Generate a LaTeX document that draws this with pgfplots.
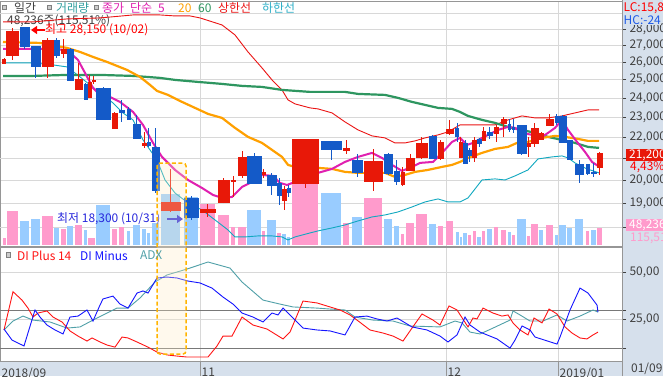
\documentclass[border=0pt]{standalone}
\usepackage{fontspec}
\setmainfont{Noto Sans CJK KR}
\usepackage{pgfplots}
\usepackage{pgfplotstable}
\pgfplotsset{compat=1.18}
\usetikzlibrary{arrows.meta}
\definecolor{candred}{RGB}{232,24,8}
\definecolor{candblue}{RGB}{20,90,200}
\definecolor{volpink}{RGB}{255,155,204}
\definecolor{volblue}{RGB}{153,204,255}
\definecolor{ma5}{RGB}{224,32,176}
\definecolor{ma20}{RGB}{255,160,0}
\definecolor{ma60}{RGB}{46,150,96}
\definecolor{bandup}{RGB}{235,20,20}
\definecolor{banddn}{RGB}{16,168,192}
\definecolor{gridgray}{RGB}{216,216,216}
\definecolor{refgray}{RGB}{120,120,120}
\definecolor{panelbg}{RGB}{214,224,236}
\definecolor{framegray}{RGB}{150,150,150}
\definecolor{ticktext}{RGB}{64,64,64}
\definecolor{diplus}{RGB}{255,20,20}
\definecolor{diminus}{RGB}{20,20,255}
\definecolor{adx}{RGB}{80,160,168}
\definecolor{volteal}{RGB}{51,160,160}
\definecolor{hilow}{RGB}{48,176,200}
\definecolor{boxorange}{RGB}{255,180,0}
\definecolor{boxfill}{RGB}{255,238,198}
\definecolor{lowblue}{RGB}{40,40,220}
\definecolor{hcblue}{RGB}{30,90,230}
\newcommand\cf{\fontsize{12}{14}\selectfont}

\pgfplotstableread{
xl xr o h l c v up vc
2.5 5.5 25955 26248 25900 26190 19900 1 1
6.5 18 26424 28062 26131 27875 96500 1 1
20 29 28081 28150 26762 26917 68100 0 0
31 40 26917 26917 25104 25784 73800 0 0
42 53 25784 27444 25104 27322 82300 1 1
54 59 27322 27444 26248 26424 48200 0 0
61 66 26542 27383 26248 26780 45400 1 1
67 73 26780 26840 24937 24992 53900 0 0
75 82 24496 25957 24496 25048 56700 1 1
84 87 24770 24826 23903 23956 42600 0 0
88 91.5 24063 25272 24010 24881 19900 1 1
92 95 24937 25216 24770 24992 19900 1 1
96 110 24550 24605 22861 22912 113500 0 0
112 117 22457 23272 22457 23220 45400 1 1
119 124 23376 23903 22760 23272 51100 0 1
127 130 23428 23532 22861 22912 39700 0 0
133 140 22657 23117 21913 21962 56700 0 0
142 146 21622 22258 21478 21718 45400 1 0
147 150 21767 22457 21526 21622 34000 0 0
152 159 21526 22457 19428 19558 62400 0 0
161 180 18705 20495 18622 19042 144700 1 0
184 198 19212 19298 18300 18416 136200 0 0
200 215 18622 18957 18416 18747 116300 1 1
218 229 19042 20089 18999 19999 85100 1 1
231 235 19954 20178 19255 19999 51100 1 1
238 246 20223 21334 20089 21051 51100 1 1
247 261 21098 21239 19821 19866 99300 0 0
262 265 20268 20495 20089 20359 39700 1 1
267 276 20223 20314 19341 19777 70900 0 0
277 281 19866 20089 18915 19341 34000 0 1
282 286 19127 19733 18705 19602 31200 1 0
287 290 19646 19777 19255 19471 22700 0 0
292 318 19866 21913 19646 21913 175900 1 1
321 341 21816 21816 20911 21430 147500 0 0
343 349 21382 21864 21192 21478 62400 1 1
352 362 20911 21192 20133 20359 79400 0 0
364 382 19954 21430 19515 20864 133300 1 1
384 392 21192 21239 20223 20314 73800 0 0
394 399 20404 20911 19777 19954 53900 0 0
401 404 19821 20587 19733 20359 31200 1 1
406 414 20450 21192 20404 21004 62400 1 1
416 427 21051 22011 20957 21718 87900 1 1
429 436 22060 22109 21004 21004 59600 0 0
438 443 21004 21864 20911 21767 53900 1 1
446 453 22208 22861 22109 22407 68100 1 1
455.5 458.5 22457 22708 21767 22060 36900 0 0
459.5 462 21051 22011 21051 21767 22700 1 0
463 467 21718 21864 20725 20772 34000 0 0
468 471 21382 21478 20818 21145 28400 0 1
472.5 476 21051 22011 20818 21864 39700 1 1
477 481 21913 21962 21526 21718 22700 0 0
482 485 21864 22507 21816 22307 39700 1 1
487 492 22258 22507 21913 22109 45400 0 0
494 498 22208 22607 21767 22507 51100 1 1
501 506 22708 23014 22011 22912 42600 1 1
508 510.5 22657 22912 22258 22407 36900 0 0
512 514.5 22507 22912 22208 22407 28400 0 1
517 526 22607 22607 21145 21239 73800 0 0
527 530 21574 22011 21051 21718 25500 1 1
531 538 21718 22708 21526 22457 59600 1 1
539 543 21913 22258 21864 22208 42600 1 0
546 553 22607 23169 22557 22912 56700 1 1
555 558 23065 23169 22607 22760 28400 0 0
559 566 23065 23117 21767 21767 56700 0 0
567 572 21864 21864 20911 20957 48200 0 0
575 583 20725 20911 19866 20268 73800 0 0
586 589 20725 20725 20223 20314 39700 0 1
591 596 20359 20772 20133 20300 42600 0 0
597 602 20587 21287 20223 21200 48236 1 1
}\candles
\pgfplotstablegetrowsof{\candles}
\pgfmathtruncatemacro\lastrow{\pgfplotsretval-1}

\begin{document}
\begin{tikzpicture}
\begin{scope}[x=1bp,y=1bp]
\useasboundingbox (0,0) rectangle (663,376);
\clip (0,0) rectangle (663,376);
\fill[white] (0,0) rectangle (663,376);
\fill[panelbg] (622,0) rectangle (663,376);
\fill[panelbg] (0,0) rectangle (663,15);

% grid + ticks of upper panel
\begin{axis}[
  at={(0bp,130bp)}, anchor=south west, scale only axis, width=622bp, height=245bp,
  xmin=0, xmax=622, ymode=log, ymin=17263, ymax=29803,
  axis line style={framegray, line width=0.8bp},
  xtick={200,446,558}, xticklabel style={opacity=0}, xmajorgrids, xtick style={draw=none},
  ytick={19000,20000,22000,23000,24000,25000,26000,27000,28000},
  yticklabels={{19,000},{20,000},{22,000},{23,000},{24,000},{25,000},{26,000},{27,000},{28,000}},
  extra y ticks={18000,21000,29000}, extra y tick labels={},
  ymajorgrids, yminorticks=false,
  ytick pos=right, yticklabel pos=right,
  ytick style={ticktext, line width=0.8bp}, tick align=outside, major tick length=4bp,
  yticklabel style={font=\cf, text=ticktext},
  grid style={gridgray, line width=0.8bp},
]
\addplot[draw=none] coordinates {(0,20000) (622,20000)};
\end{axis}
\node[anchor=west, inner sep=0, font=\cf, text=ticktext] at (7,355) {48,236주(115.51\%)};

% volume
\begin{axis}[
  at={(0bp,130bp)}, anchor=south west, scale only axis, width=622bp, height=245bp,
  xmin=0, xmax=622, ymin=-2837, ymax=692228, hide axis]
\foreach \i in {0,...,\lastrow}{%
  \pgfplotstablegetelem{\i}{xl}\of\candles\let\CXl\pgfplotsretval
  \pgfplotstablegetelem{\i}{xr}\of\candles\let\CXr\pgfplotsretval
  \pgfplotstablegetelem{\i}{v}\of\candles\let\CV\pgfplotsretval
  \pgfplotstablegetelem{\i}{vc}\of\candles\let\CVC\pgfplotsretval
  \edef\temp{\noexpand\addplot[draw=none, fill=\ifnum\CVC=1 volpink\else volblue\fi] coordinates {(\CXl,0) (\CXr,0) (\CXr,\CV) (\CXl,\CV)} --cycle;}%
  \temp
}
\end{axis}

% price
\begin{axis}[
  at={(0bp,130bp)}, anchor=south west, scale only axis, width=622bp, height=245bp,
  xmin=0, xmax=622, ymode=log, ymin=17263, ymax=29803, hide axis]
\addplot[bandup, line width=0.9bp] coordinates {(3,28440) (33,28440) (67,28631) (100,28695) (133,28887) (160,28887) (175,28823) (190,28823) (200,28695) (222,28250) (235,27628) (248,26601) (262,25670) (272,24992) (282,24441) (288,23903) (295,23691) (310,23481) (318,23428) (332,23220) (345,22759) (358,22357) (372,22060) (385,21962) (395,21718) (405,21718) (415,21816) (425,21962) (438,22109) (448,22258) (460,22607) (468,22607) (495,22607) (508,22861) (522,23065) (535,22963) (548,22963) (562,23065) (575,23220) (588,23376) (599,23376)};
\addplot[banddn, line width=0.9bp] coordinates {(3,25958) (33,25958) (53,25842) (67,25727) (80,25160) (90,24715) (100,24278) (113,23744) (123,23220) (133,22861) (143,21864) (157,20911) (165,19999) (175,19428) (188,19000) (202,18705) (215,18293) (228,17890) (235,17614) (245,17614) (258,17653) (272,17653) (282,17614) (288,17496) (295,17614) (310,17771) (318,17851) (332,17970) (345,18090) (358,18252) (372,18416) (385,18498) (398,18622) (412,18831) (425,19042) (438,19170) (448,19042) (460,19042) (468,19213) (482,19999) (495,20044) (505,19999) (515,20178) (528,20450) (538,20957) (552,21051) (562,21098) (568,21004) (575,20772) (587,20496) (599,20314)};
\addplot[ma60, line width=2.2bp] coordinates {(3,25216) (33,25216) (67,25272) (100,25272) (133,25216) (147,25160) (160,25104) (175,24992) (198,24881) (222,24770) (242,24660) (262,24605) (282,24441) (310,24333) (345,24333) (358,24224) (385,24170) (398,24010) (412,23797) (425,23638) (438,23481) (452,23428) (460,23272) (468,23065) (482,22861) (495,22708) (508,22507) (522,22357) (535,22208) (548,22011) (562,21864) (575,21718) (588,21526) (599,21478)};
\addplot[ma20, line width=2.2bp] coordinates {(3,27201) (40,27140) (67,26840) (80,26601) (93,26307) (107,26014) (127,25555) (140,25160) (150,24715) (157,24387) (168,24170) (182,23797) (195,23481) (208,23169) (222,22963) (235,22457) (248,22011) (262,21718) (272,21382) (282,21051) (288,20679) (295,20587) (305,20542) (318,20542) (332,20496) (345,20359) (358,20314) (385,20314) (395,20133) (405,20223) (415,20359) (428,20450) (442,20587) (452,20679) (460,20818) (468,21004) (482,21240) (495,21430) (508,21526) (517,21718) (528,21767) (542,21962) (555,22060) (565,22011) (578,21913) (588,21816) (599,21816)};
\addplot[ma5, line width=2bp] coordinates {(3,26780) (40,26780) (67,26720) (78,26131) (85,25385) (93,24551) (100,24170) (110,24063) (120,23797) (133,23272) (143,22607) (153,21719) (162,21051) (175,20450) (188,19999) (202,19646) (213,19341) (222,19213) (232,19255) (242,19689) (252,19910) (262,20223) (273,20178) (280,19866) (287,19777) (295,19910) (310,20089) (318,20314) (332,20496) (345,20818) (358,21051) (372,21240) (382,21004) (392,20679) (402,20404) (412,20587) (420,20772) (433,20818) (442,21240) (452,21767) (460,21962) (467,21622) (473,21718) (482,21962) (488,22109) (498,22357) (508,22507) (515,22457) (523,22208) (532,22109) (542,22011) (548,22208) (555,22457) (562,22861) (568,22357) (577,21767) (585,21287) (592,20818) (598,20633)};
\foreach \i in {0,...,\lastrow}{%
  \pgfplotstablegetelem{\i}{xl}\of\candles\let\CXl\pgfplotsretval
  \pgfplotstablegetelem{\i}{xr}\of\candles\let\CXr\pgfplotsretval
  \pgfplotstablegetelem{\i}{o}\of\candles\let\CO\pgfplotsretval
  \pgfplotstablegetelem{\i}{h}\of\candles\let\CH\pgfplotsretval
  \pgfplotstablegetelem{\i}{l}\of\candles\let\CL\pgfplotsretval
  \pgfplotstablegetelem{\i}{c}\of\candles\let\CC\pgfplotsretval
  \pgfplotstablegetelem{\i}{up}\of\candles\let\CUP\pgfplotsretval
  \pgfmathsetmacro\CXm{(\CXl+\CXr)/2}%
  \edef\col{\ifnum\CUP=1 candred\else candblue\fi}%
  \edef\temp{\noexpand\addplot[draw=\col, line width=1bp] coordinates {(\CXm,\CL) (\CXm,\CH)};
    \noexpand\addplot[draw=\col, fill=\col, line width=0.6bp] coordinates {(\CXl,\CO) (\CXr,\CO) (\CXr,\CC) (\CXl,\CC)} --cycle;}%
  \temp
}
\end{axis}

% annotations
\draw[red, line width=1.2bp, -{Triangle[length=6bp,width=8bp]}] (45,346) -- (31,346);
\node[anchor=west, inner sep=0, font=\cf, text=red] at (45,346) {최고 28,150 (10/02)};
\node[anchor=west, inner sep=0, font=\cf, text=lowblue] at (57,157) {최저 18,300 (10/31)};
\draw[lowblue, line width=1.2bp, -{Triangle[length=6bp,width=8bp]}] (167,157) -- (183,157);

% lower panel
\begin{axis}[
  at={(0bp,15bp)}, anchor=south west, scale only axis, width=622bp, height=114bp,
  xmin=0, xmax=622, ymin=3.31, ymax=63.18,
  axis line style={framegray, line width=0.8bp},
  xtick={0,200,446,558}, xticklabels={2018/09,11,12,2019/01}, xmajorgrids, xtick style={draw=none},
  xticklabel style={anchor=north west, inner sep=0pt, font=\cf, text=ticktext, yshift=-3bp, xshift=1.5bp},
  ytick={25,50}, yticklabels={{25,00},{50,00}}, ymajorgrids,
  ytick pos=right, yticklabel pos=right,
  ytick style={ticktext, line width=0.8bp}, tick align=outside, major tick length=4bp,
  yticklabel style={font=\cf, text=ticktext},
  extra y ticks={10,30}, extra y tick labels={},
  extra y tick style={grid style={refgray, line width=0.9bp}},
  grid style={gridgray, line width=0.8bp},
]
\addplot[adx, line width=0.9bp] coordinates {(4,19.6) (13,24.3) (23,26.9) (33,24.8) (50,23.8) (67,20.6) (80,21.2) (93,24.8) (107,28.5) (117,31.1) (128,31.1) (140,36.4) (155,44.8) (167,48.5) (187,51.6) (208,55.3) (230,52.1) (242,44.8) (263,35.3) (280,33.2) (293,31.7) (317,31.1) (330,30.6) (345,30.1) (355,26.4) (373,24.8) (393,24.3) (410,21.7) (440,21.2) (455,24.3) (462,23.3) (470,18.5) (480,17.5) (493,20.6) (510,24.8) (513,29.6) (520,27.5) (530,24.3) (543,24.3) (557,27.5) (567,24.3) (580,26.9) (593,30.1) (598,29.0)};
\addplot[diplus, line width=0.9bp] coordinates {(4,19.6) (13,39.7) (22,35.3) (28,31.1) (33,26.4) (38,28.5) (47,29.6) (53,26.4) (62,23.8) (70,19.1) (78,16.4) (87,13.8) (92,15.4) (100,13.3) (107,11.7) (115,10.6) (122,15.9) (128,15.4) (137,13.3) (148,10.6) (157,8.0) (167,6.5) (177,5.9) (187,5.4) (197,5.4) (208,5.4) (217,11.2) (223,16.4) (232,16.4) (242,26.4) (253,22.2) (267,20.1) (283,14.9) (290,18.5) (303,34.8) (317,33.8) (330,31.7) (340,30.1) (350,27.5) (357,24.8) (370,19.6) (383,18.0) (393,16.4) (403,13.8) (412,20.6) (422,28.0) (433,24.8) (440,22.2) (449,32.2) (457,30.1) (468,21.2) (473,25.9) (477,25.4) (483,31.1) (493,28.5) (502,26.9) (508,27.5) (513,23.3) (520,19.6) (528,17.0) (534,25.9) (542,23.3) (549,30.6) (557,28.0) (565,21.2) (572,18.0) (580,15.4) (587,14.9) (593,17.0) (598,18.5)};
\addplot[diminus, line width=0.9bp] coordinates {(4,20.1) (12,14.3) (24,11.2) (35,30.1) (40,26.4) (47,22.2) (55,19.6) (63,17.5) (70,26.4) (78,26.9) (87,30.1) (93,24.3) (100,32.7) (103,35.9) (113,37.4) (120,33.2) (128,31.1) (137,39.0) (143,40.1) (148,39.0) (157,46.9) (167,47.4) (177,46.9) (188,45.3) (200,44.3) (212,41.6) (223,36.9) (233,33.2) (242,28.5) (253,26.4) (263,23.8) (272,28.5) (278,27.5) (283,31.1) (290,27.5) (303,20.6) (317,19.6) (330,19.1) (345,17.0) (355,26.4) (367,26.9) (377,25.4) (387,24.3) (397,25.9) (412,21.2) (427,19.6) (440,16.4) (448,13.3) (457,17.0) (465,26.4) (470,22.2) (480,18.5) (497,14.9) (510,10.1) (515,14.3) (522,21.7) (530,19.6) (535,15.9) (557,12.2) (560,15.9) (570,30.1) (580,41.6) (588,39.0) (597,32.7) (598,29.0)};
\end{axis}

% highlight box
\fill[boxfill, opacity=0.3, rounded corners=3bp] (157,22) rectangle (186,213);
\draw[boxorange, line width=1.5bp, dash pattern=on 4bp off 2.5bp, rounded corners=3bp] (157,22) rectangle (186,213);

% date strip lines and right border
\draw[framegray, line width=0.8bp] (200,0) -- (200,15) (446,0) -- (446,15) (558,0) -- (558,15);
\draw[framegray, line width=0.8bp] (622,0) -- (622,376);

% legends
\fill[gray!40, draw=gray] (2,366.5) rectangle (6.5,371);
\node[anchor=west, inner sep=0, font=\cf, text=ticktext] at (14,368) {일간};
\fill[gray!40, draw=gray] (47,366.5) rectangle (51.5,371);
\node[anchor=west, inner sep=0, font=\cf, text=volteal] at (56,368) {거래량};
\fill[gray!40, draw=gray] (94,366.5) rectangle (98.5,371);
\node[anchor=west, inner sep=0, font=\cf, text=ma5] at (102,368) {종가\hspace{6bp}단순\hspace{6bp}5};
\node[anchor=west, inner sep=0, font=\cf, text=ma20] at (178,368) {20};
\node[anchor=west, inner sep=0, font=\cf, text=ma60] at (198,368) {60};
\node[anchor=west, inner sep=0, font=\cf, text=bandup] at (218,368) {상한선};
\node[anchor=west, inner sep=0, font=\cf, text=hilow] at (262,368) {하한선};

\fill[gray!40, draw=gray] (6,119.3) rectangle (10.5,123.8);
\node[anchor=west, inner sep=0, font=\cf, text=diplus] at (17,120.5) {DI Plus 14};
\node[anchor=west, inner sep=0, font=\cf, text=diminus] at (80,120.5) {DI Minus};
\node[anchor=west, inner sep=0, font=\cf, text=adx] at (140,120.5) {ADX};

% right panel labels
\node[anchor=west, inner sep=0.5bp, fill=panelbg, font=\cf, text=red] at (623,368) {LC:15,8};
\node[anchor=west, inner sep=0.5bp, fill=panelbg, font=\cf, text=hcblue] at (623,356) {HC:-24};
\fill[candred] (626,215) rectangle (663,227);
\node[anchor=west, inner sep=0, font=\cf, text=white] at (629,221) {21,200};
\node[anchor=west, inner sep=0, font=\cf, text=red] at (630,209) {4,43\%};
\fill[volpink] (626,145) rectangle (663,157);
\node[anchor=west, inner sep=0, font=\cf, text=white] at (629,151) {48,236};
\node[anchor=west, inner sep=0, font=\cf, text=volpink] at (630,138) {115,51};
\node[anchor=west, inner sep=0, font=\cf, text=ticktext] at (631,7.5) {01/09};
\end{scope}
\end{tikzpicture}
\end{document}
